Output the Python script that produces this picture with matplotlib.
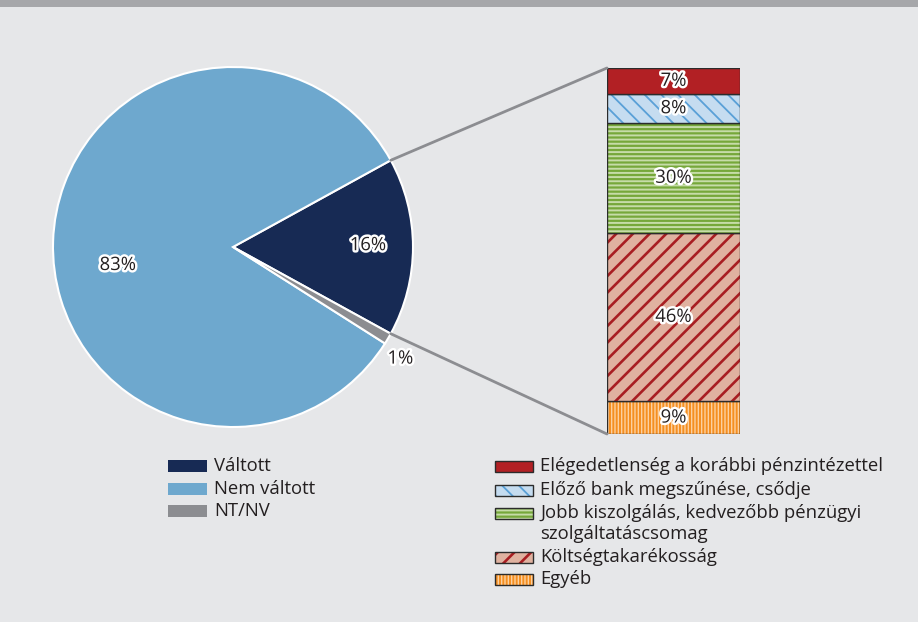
import matplotlib
matplotlib.use('Agg')
import matplotlib.pyplot as plt
from matplotlib.patches import Rectangle, ConnectionPatch
import matplotlib.patheffects as pe
import numpy as np

plt.rcParams['font.family'] = ['Open Sans', 'DejaVu Sans']
plt.rcParams['hatch.linewidth'] = 1.6

# ---- data ----
pie_labels = ['Váltott', 'Nem váltott', 'NT/NV']
pie_values = [16, 83, 1]
pie_colors = ['#172a54', '#6ea8ce', '#8c8d91']

reason_labels = ['Elégedetlenség a korábbi pénzintézettel',
                 'Előző bank megszűnése, csődje',
                 'Jobb kiszolgálás, kedvezőbb pénzügyi\nszolgáltatáscsomag',
                 'Költségtakarékosság',
                 'Egyéb']
reason_values = [7, 8, 30, 46, 9]
reason_faces = ['#b22024', '#c5dcf0', '#76a83a', '#e0b2a0', '#f58f20']
reason_hatch_colors = ['#b22024', '#5aa0d7', '#c6dca8', '#a81e22', '#fcd0a0']
reason_hatches = ['', '\\\\', '----', '//', '|||||']
reason_hatch_lw = [1.0, 1.3, 1.4, 1.9, 1.0]

W, H = 918, 622
BG = '#e6e7e9'
fig = plt.figure(figsize=(W / 100, H / 100), dpi=100)
fig.patch.set_facecolor(BG)

def fx(px):
    return px / W

def fy(py):
    return 1 - py / H

def set_hlw(p, lw):
    if hasattr(p, 'set_hatch_linewidth'):
        p.set_hatch_linewidth(lw)

# top band
fig.add_artist(Rectangle((0, fy(7)), 1, 7 / H, transform=fig.transFigure,
                         facecolor='#a6a7aa', edgecolor='none'))

stroke = [pe.withStroke(linewidth=3.5, foreground='white')]
FS = 13.3
TXT = '#231f20'

# ---- pie ----
cx, cy, r = 233, 247, 180
axp = fig.add_axes([fx(cx - r), fy(cy + r), 2 * r / W, 2 * r / H])
total = sum(pie_values)
half = pie_values[0] / total * 360 / 2
wedges, _ = axp.pie(pie_values, colors=pie_colors, startangle=-half,
                    counterclock=True, radius=1,
                    wedgeprops=dict(edgecolor='white', linewidth=1.5))
axp.set_xlim(-1, 1)
axp.set_ylim(-1, 1)
axp.set_aspect('equal')
axp.axis('off')

label_pos = [(0.75, 0.01), (-0.64, -0.10), (0.93, -0.62)]
for v, (x, y) in zip(pie_values, label_pos):
    axp.text(x, y, f'{v}%', ha='center', va='center', fontsize=FS,
             color=TXT, path_effects=stroke, zorder=5)

# ---- stacked bar ----
axb = fig.add_axes([fx(607), fy(434), (740 - 607) / W, (434 - 68) / H])
axb.set_xlim(-0.5, 0.5)
axb.set_ylim(0, sum(reason_values))
axb.axis('off')
bottom = 0
for v, fc, hc, h, hlw in list(zip(reason_values, reason_faces,
                                  reason_hatch_colors, reason_hatches,
                                  reason_hatch_lw))[::-1]:
    bars = axb.bar(0, v, bottom=bottom, width=1, color=fc, edgecolor=hc,
                   hatch=h, linewidth=0)
    for p in bars:
        set_hlw(p, hlw)
    axb.bar(0, v, bottom=bottom, width=1, fill=False, edgecolor='#2b2b2b',
            linewidth=1.0)
    axb.text(0, bottom + v / 2, f'{v}%', ha='center', va='center',
             fontsize=FS, color=TXT, path_effects=stroke, zorder=5)
    bottom += v

# ---- connectors ----
a = np.deg2rad(half)
for sgn, yb in [(1, sum(reason_values)), (-1, 0)]:
    con = ConnectionPatch(xyA=(np.cos(a), sgn * np.sin(a)), coordsA=axp.transData,
                          xyB=(-0.5, yb), coordsB=axb.transData,
                          color='#8c8d91', linewidth=2)
    fig.add_artist(con)

# ---- legends ----
def legend_item(xp, yc, wpx, hpx, face, hatch='', hcol=None, outline=None, hlw=None):
    p = Rectangle((fx(xp), fy(yc + hpx / 2)), wpx / W, hpx / H,
                  transform=fig.transFigure, facecolor=face,
                  edgecolor=hcol if hcol else face, hatch=hatch, linewidth=0)
    if hlw:
        set_hlw(p, hlw)
    fig.add_artist(p)
    if outline:
        fig.add_artist(Rectangle((fx(xp), fy(yc + hpx / 2)), wpx / W, hpx / H,
                                 transform=fig.transFigure, fill=False,
                                 edgecolor=outline, linewidth=1.0))

left_rows = [466, 489, 511]
for lab, col, yc in zip(pie_labels, pie_colors, left_rows):
    legend_item(168, yc, 39, 12, col)
    fig.text(fx(214), fy(yc), lab, ha='left', va='center', fontsize=FS,
             color=TXT)

right_rows = [466, 490, 513, 557, 579]
for lab, fc, hc, h, hlw, yc in zip(reason_labels, reason_faces, reason_hatch_colors,
                                   reason_hatches, reason_hatch_lw, right_rows):
    legend_item(495, yc, 38, 11, fc, h, hc, outline='#2b2b2b', hlw=hlw)
    lines = lab.split('\n')
    for i, ln in enumerate(lines):
        fig.text(fx(540), fy(yc + 21 * i), ln, ha='left', va='center',
                 fontsize=FS, color=TXT)

fig.savefig('out.png', dpi=100, facecolor=BG)
